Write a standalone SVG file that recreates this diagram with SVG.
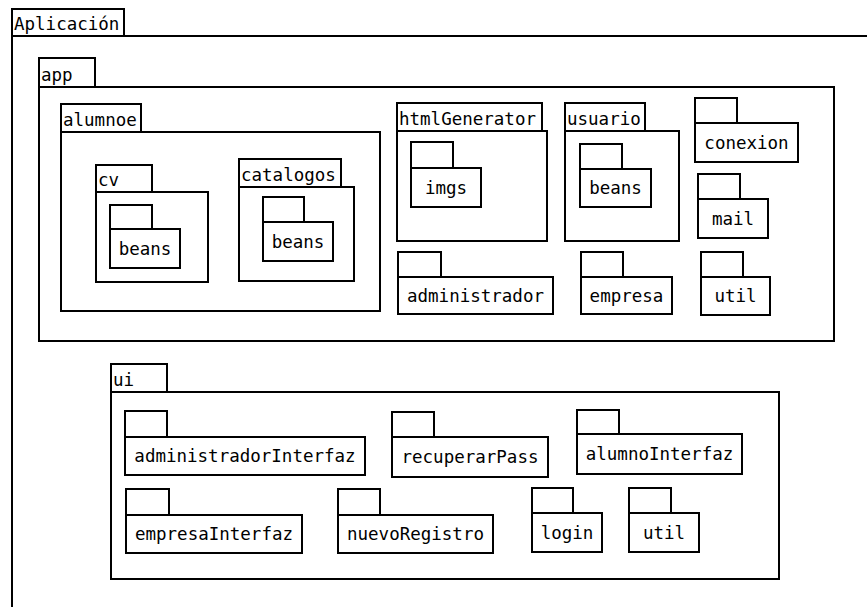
<svg xmlns="http://www.w3.org/2000/svg" width="867" height="607" viewBox="0 0 867 607">
<style>
rect{fill:#fff;stroke:#000;stroke-width:2}
text{font-family:"DejaVu Sans Mono","Liberation Mono",monospace;font-size:17.5px;fill:#000}
.c{text-anchor:middle}
</style>
<rect x="0" y="0" width="867" height="607" style="stroke:none"/>
<g id="aplicacion">
<rect x="12" y="9" width="112" height="27"/><rect x="12" y="36" width="880" height="600"/>
<text x="14" y="30">Aplicación</text>
</g>
<g id="app">
<rect x="39" y="58" width="56" height="29"/><rect x="39" y="87" width="795" height="254"/>
<text x="41" y="81">app</text>
</g>
<g id="alumnoe">
<rect x="61" y="104" width="80" height="28"/><rect x="61" y="132" width="319" height="179"/>
<text x="63" y="126">alumnoe</text>
</g>
<g id="cv">
<rect x="96" y="165" width="56" height="27"/><rect x="96" y="192" width="112" height="90"/>
<text x="98" y="186">cv</text>
</g>
<g id="cv-beans">
<rect x="110" y="205" width="42" height="24"/><rect x="110" y="229" width="70" height="39"/>
<text class="c" x="145" y="255">beans</text>
</g>
<g id="catalogos">
<rect x="239" y="159" width="102" height="28"/><rect x="239" y="187" width="115" height="94"/>
<text x="241" y="181">catalogos</text>
</g>
<g id="catalogos-beans">
<rect x="263" y="197" width="41" height="25"/><rect x="263" y="222" width="70" height="39"/>
<text class="c" x="298" y="248">beans</text>
</g>
<g id="htmlGenerator">
<rect x="397" y="103" width="145" height="28"/><rect x="397" y="131" width="150" height="110"/>
<text x="399" y="125">htmlGenerator</text>
</g>
<g id="imgs">
<rect x="411" y="142" width="42" height="26"/><rect x="411" y="168" width="70" height="39"/>
<text class="c" x="446" y="194">imgs</text>
</g>
<g id="usuario">
<rect x="565" y="103" width="80" height="28"/><rect x="565" y="131" width="114" height="110"/>
<text x="567" y="125">usuario</text>
</g>
<g id="usuario-beans">
<rect x="580" y="144" width="42" height="25"/><rect x="580" y="169" width="71" height="38"/>
<text class="c" x="615.5" y="194">beans</text>
</g>
<g id="administrador">
<rect x="398" y="252" width="43" height="25"/><rect x="398" y="277" width="155" height="37"/>
<text class="c" x="475.5" y="302">administrador</text>
</g>
<g id="empresa">
<rect x="581" y="252" width="42" height="25"/><rect x="581" y="277" width="91" height="37"/>
<text class="c" x="626.5" y="302">empresa</text>
</g>
<g id="conexion">
<rect x="695" y="98" width="42" height="25"/><rect x="695" y="123" width="103" height="39"/>
<text class="c" x="746.5" y="149">conexion</text>
</g>
<g id="mail">
<rect x="698" y="174" width="42" height="25"/><rect x="698" y="199" width="70" height="39"/>
<text class="c" x="733" y="225">mail</text>
</g>
<g id="app-util">
<rect x="701" y="252" width="42" height="25"/><rect x="701" y="277" width="69" height="38"/>
<text class="c" x="735.5" y="302">util</text>
</g>
<g id="ui">
<rect x="111" y="364" width="56" height="28"/><rect x="111" y="392" width="668" height="187"/>
<text x="113" y="386">ui</text>
</g>
<g id="administradorInterfaz">
<rect x="125" y="411" width="42" height="26"/><rect x="125" y="437" width="240" height="38"/>
<text class="c" x="245" y="462">administradorInterfaz</text>
</g>
<g id="recuperarPass">
<rect x="392" y="412" width="42" height="25"/><rect x="392" y="437" width="156" height="40"/>
<text class="c" x="470" y="463">recuperarPass</text>
</g>
<g id="alumnoInterfaz">
<rect x="577" y="410" width="42" height="24"/><rect x="577" y="434" width="165" height="40"/>
<text class="c" x="659.5" y="460">alumnoInterfaz</text>
</g>
<g id="empresaInterfaz">
<rect x="126" y="489" width="43" height="26"/><rect x="126" y="515" width="176" height="38"/>
<text class="c" x="214" y="540">empresaInterfaz</text>
</g>
<g id="nuevoRegistro">
<rect x="338" y="489" width="42" height="26"/><rect x="338" y="515" width="155" height="38"/>
<text class="c" x="415.5" y="540">nuevoRegistro</text>
</g>
<g id="login">
<rect x="532" y="488" width="41" height="25"/><rect x="532" y="513" width="70" height="39"/>
<text class="c" x="567" y="539">login</text>
</g>
<g id="ui-util">
<rect x="629" y="488" width="42" height="25"/><rect x="629" y="513" width="70" height="39"/>
<text class="c" x="664" y="539">util</text>
</g>
<g id="connectors"/>
</svg>
